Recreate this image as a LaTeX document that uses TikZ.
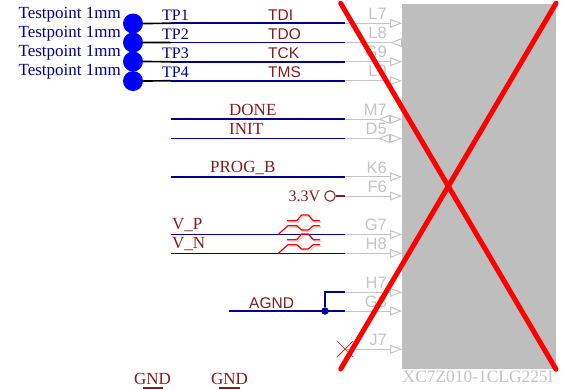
\documentclass[tikz,border=0pt]{standalone}
\usepackage{fontspec}
\setmainfont{Liberation Serif}
\setsansfont{Liberation Sans}
\usetikzlibrary{arrows.meta}

\definecolor{netblue}{HTML}{00008B}
\definecolor{netred}{HTML}{841A1A}
\definecolor{pingrey}{HTML}{C4C4C4}
\definecolor{bodygrey}{HTML}{BEBEBE}

\begin{document}
\begin{tikzpicture}[x=1pt,y=-1pt]
	\useasboundingbox (0,0) rectangle (563,389);
	\tikzstyle{wire}=[draw=netblue, line width=1.7pt]
	\tikzstyle{stub}=[draw=black, line width=1.7pt]
	\tikzstyle{pin}=[draw=pingrey, line width=1pt, -{Triangle[open, fill=white, length=12pt, width=9pt]}]
	\tikzstyle{pinin}=[draw=pingrey, line width=1pt, -{Triangle[open, reversed, fill=white, length=12pt, width=9pt]}]
	\tikzstyle{pinboth}=[draw=pingrey, line width=1pt, -{Triangle[open, reversed, fill=white, length=12pt, width=9pt, sep=0pt]Triangle[open, fill=white, length=12pt, width=9pt]}]
	\tikzstyle{tpdot}=[circle, fill=blue, minimum width=20pt, inner sep=0pt]
	\tikzstyle{tplabel}=[anchor=east, text=netblue, font=\fontsize{17}{18}\selectfont, inner sep=0pt]
	\tikzstyle{tpname}=[anchor=west, text=netblue, font=\fontsize{16}{18}\selectfont, inner sep=0pt]
	\tikzstyle{serifnet}=[anchor=west, text=netred, font=\fontsize{17}{18}\selectfont, inner sep=0pt]
	\tikzstyle{sansnet}=[anchor=west, text=netred, font=\sffamily\fontsize{15.5}{18}\selectfont, inner sep=0pt]
	\tikzstyle{pinname}=[anchor=east, text=pingrey, font=\sffamily\fontsize{16.5}{18}\selectfont, inner sep=0pt]
	\tikzstyle{cross}=[draw=red, line width=5pt, line cap=round]
	\newcommand\XWire{171}
	\newcommand\XPin{345}
	\newcommand\XBody{402}
	\newcommand\XName{387}
	\newcommand\DiffPair[1]{
		\begin{scope}[shift={(0,#1)}]
			\draw [pingrey!70, line width=1.4pt, shift={(1.5,1.5)}] (287,220.7) -- (296.7,220.7) -- (301.7,215) -- (308.3,215) -- (313.3,220.7) -- (320,220.7);
			\draw [pingrey!70, line width=1.4pt, shift={(1.5,1.5)}] (288,225.7) -- (296.7,225.7) -- (301.7,230) -- (308.3,230) -- (313.3,225.7) -- (320,225.7);
			\draw [red, line width=1.2pt] (287,220.7) -- (296.7,220.7) -- (301.7,215) -- (308.3,215) -- (313.3,220.7) -- (320,220.7);
			\draw [red, line width=1.2pt] (278.3,234.3) -- (288,225.7) -- (296.7,225.7) -- (301.7,230) -- (308.3,230) -- (313.3,225.7) -- (320,225.7);
		\end{scope}
	}

	% Chip body
	\node [fill=bodygrey, minimum width=154pt, minimum height=365.5pt, anchor=north west, inner sep=0pt] at (\XBody,3.5) (chip) {};
	\node [anchor=north west, text=pingrey, font=\fontsize{17.4}{18}\selectfont, inner sep=0pt] at (402.5,371) (chipname) {XC7Z010-1CLG225I};

	% Testpoints
	\node [tpdot] at (133,23.5) (D1) {};
	\node [tpdot] at (133,42.5) (D2) {};
	\node [tpdot] at (133,61.5) (D3) {};
	\node [tpdot] at (133,81) (D4) {};
	\node [tplabel] at (121,15) (D1name) {Testpoint 1mm};
	\node [tplabel] at (121,34) (D2name) {Testpoint 1mm};
	\node [tplabel] at (121,53) (D3name) {Testpoint 1mm};
	\node [tplabel] at (121,72) (D4name) {Testpoint 1mm};
	\node [tpname] at (162,15) (TP1) {TP1};
	\node [tpname] at (162,34) (TP2) {TP2};
	\node [tpname] at (162,53) (TP3) {TP3};
	\node [tpname] at (162,72) (TP4) {TP4};

	% Net ends
	\coordinate (wTDI) at (\XWire,23.3);
	\coordinate (wTDO) at (\XWire,42.6);
	\coordinate (wTCK) at (\XWire,61.7);
	\coordinate (wTMS) at (\XWire,80.8);
	\coordinate (wDONE) at (\XWire,119.3);
	\coordinate (wINIT) at (\XWire,138.4);
	\coordinate (wPROG) at (\XWire,176.8);
	\coordinate (wVP) at (\XWire,234.4);
	\coordinate (wVN) at (\XWire,253.4);
	\coordinate (wAGND) at (229,311);

	% Pin starts
	\coordinate (pL7) at (\XPin,23.3);
	\coordinate (pL8) at (\XPin,42.6);
	\coordinate (pG9) at (\XPin,61.7);
	\coordinate (pL9) at (\XPin,80.8);
	\coordinate (pM7) at (\XPin,119.3);
	\coordinate (pD5) at (\XPin,138.4);
	\coordinate (pK6) at (\XPin,176.8);
	\coordinate (pF6) at (\XPin,196);
	\coordinate (pG7) at (\XPin,234.4);
	\coordinate (pH8) at (\XPin,253.4);
	\coordinate (pH7) at (\XPin,292.3);
	\coordinate (pG8) at (\XPin,311);
	\coordinate (pJ7) at (\XPin,349.3);

	% Pin ends
	\coordinate (eL7) at (\XBody,23.3);
	\coordinate (eL8) at (\XBody,42.6);
	\coordinate (eG9) at (\XBody,61.7);
	\coordinate (eL9) at (\XBody,80.8);
	\coordinate (eM7) at (\XBody,119.3);
	\coordinate (eD5) at (\XBody,138.4);
	\coordinate (eK6) at (\XBody,176.8);
	\coordinate (eF6) at (\XBody,196);
	\coordinate (eG7) at (\XBody,234.4);
	\coordinate (eH8) at (\XBody,253.4);
	\coordinate (eH7) at (\XBody,292.3);
	\coordinate (eG8) at (\XBody,311);
	\coordinate (eJ7) at (\XBody,349.3);

	% Pins
	\path [pin] (pL7) -- (eL7);
	\path [pinin] (pL8) -- (eL8);
	\path [pin] (pG9) -- (eG9);
	\path [pin] (pL9) -- (eL9);
	\path [pinboth] (pM7) -- (eM7);
	\path [pinboth] (pD5) -- (eD5);
	\path [pin] (pK6) -- (eK6);
	\path [pin] (pF6) -- (eF6);
	\path [pin] (pG7) -- (eG7);
	\path [pin] (pH8) -- (eH8);
	\path [pin] (pH7) -- (eH7);
	\path [pin] (pG8) -- (eG8);
	\path [pin] (pJ7) -- (eJ7);

	\node [pinname] at (\XName,14) (nL7) {L7};
	\node [pinname] at (\XName,33) (nL8) {L8};
	\node [pinname] at (\XName,52) (nG9) {G9};
	\node [pinname] at (\XName,71) (nL9) {L9};
	\node [pinname] at (\XName,110) (nM7) {M7};
	\node [pinname] at (\XName,129) (nD5) {D5};
	\node [pinname] at (\XName,168) (nK6) {K6};
	\node [pinname] at (\XName,187) (nF6) {F6};
	\node [pinname] at (\XName,225) (nG7) {G7};
	\node [pinname] at (\XName,244) (nH8) {H8};
	\node [pinname] at (\XName,283) (nH7) {H7};
	\node [pinname] at (\XName,302) (nG8) {G8};
	\node [pinname] at (\XName,340) (nJ7) {J7};

	% Nets
	\draw [stub] (D1) -- (wTDI);
	\draw [stub] (D2) -- (wTDO);
	\draw [stub] (D3) -- (wTCK);
	\draw [stub] (D4) -- (wTMS);
	\draw [wire] (wTDI) -- (pL7);
	\draw [wire] (wTDO) -- (pL8);
	\draw [wire] (wTCK) -- (pG9);
	\draw [wire] (wTMS) -- (pL9);
	\draw [wire] (wDONE) -- (pM7);
	\draw [wire] (wINIT) -- (pD5);
	\draw [wire] (wPROG) -- (pK6);
	\draw [wire] (wVP) -- (pG7);
	\draw [wire] (wVN) -- (pH8);
	\draw [wire] (wAGND) -- (pG8);

	% Net names
	\node [sansnet] at (268,15) (TDI) {TDI};
	\node [sansnet] at (268,34) (TDO) {TDO};
	\node [sansnet] at (268,53) (TCK) {TCK};
	\node [sansnet] at (268,72) (TMS) {TMS};
	\node [serifnet] at (229,110) (DONE) {DONE};
	\node [serifnet] at (229,129) (INIT) {INIT};
	\node [serifnet] at (210,168) (PROG) {PROG\_B};
	\node [serifnet] at (172,225) (VP) {V\_P};
	\node [serifnet] at (172,244) (VN) {V\_N};
	\node [sansnet] at (249,303) (AGND) {AGND};

	% 3.3V
	\node [circle, draw=netred, line width=1pt, minimum width=10.5pt, inner sep=0pt] at (330,196) (vcc) {};
	\node [tpname, anchor=east, text=netred] at (320.5,196) (vccname) {3.3V};
	\draw [draw=netred, line width=1.2pt] (vcc) -- (pF6);

	% AGND joint
	\node [circle, fill=netblue, minimum width=7.5pt, inner sep=0pt] at (325,311) (joint) {};
	\draw [wire] (pH7) -| (joint);

	% Differential marks
	\DiffPair{0}
	\DiffPair{19}

	% No connect
	\coordinate (ncA) at (337,341);
	\coordinate (ncB) at (353,357);
	\coordinate (ncC) at (353,341);
	\coordinate (ncD) at (337,357);
	\draw [red, line width=0.7pt] (ncA) -- (ncB);
	\draw [red, line width=0.7pt] (ncC) -- (ncD);

	% Power symbols
	\node [serifnet] at (134,378.5) (GNDa) {GND};
	\node [serifnet] at (211,378.5) (GNDb) {GND};
	\coordinate (barA) at (142.5,388);
	\coordinate (barB) at (163,388);
	\coordinate (barC) at (219,388);
	\coordinate (barD) at (239.5,388);
	\draw [netred, line width=1.4pt] (barA) -- (barB);
	\draw [netred, line width=1.4pt] (barC) -- (barD);

	% Red cross
	\coordinate (crossA) at (340.7,3.3);
	\coordinate (crossB) at (556,369.3);
	\coordinate (crossC) at (556,3.3);
	\coordinate (crossD) at (340.7,369);
	\path [cross] (crossA) -- (crossB);
	\path [cross] (crossC) -- (crossD);
\end{tikzpicture}
\end{document}
